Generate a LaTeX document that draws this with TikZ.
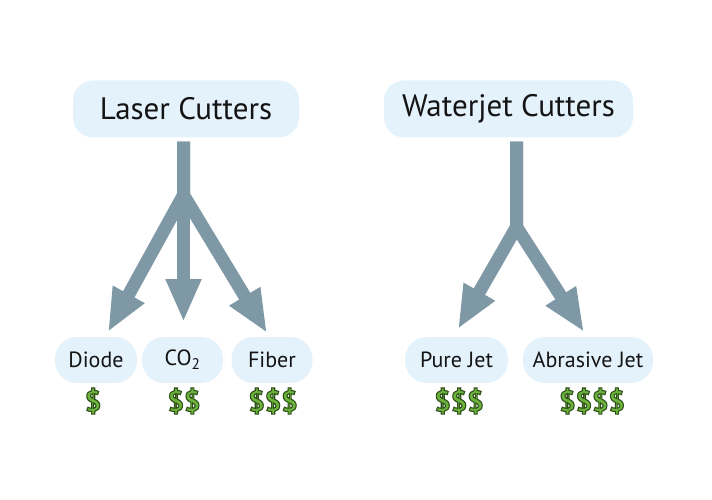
\documentclass[tikz,border=0pt]{standalone}
\usepackage{fontspec}
\setmainfont{PT Sans}
\usetikzlibrary{arrows.meta,calc}
\definecolor{boxfill}{RGB}{228,242,252}
\definecolor{arrowc}{RGB}{127,152,166}
\definecolor{dollarfill}{RGB}{108,180,60}
\definecolor{txt}{RGB}{20,20,20}
\newcommand{\outlined}[1]{\special{pdf:literal direct 2 Tr 1.1 w 0.18 0.31 0.1 RG}#1\special{pdf:literal direct 0 Tr}}
\begin{document}
\begin{tikzpicture}[x=1pt,y=-1pt,
  bigbox/.style={fill=boxfill, rounded corners=20pt, minimum width=#1, minimum height=57pt, inner sep=0pt, text=txt, font=\fontsize{31}{34}\selectfont},
  smallbox/.style={fill=boxfill, rounded corners=22pt, minimum width=#1, minimum height=46pt, inner sep=0pt, text=txt, font=\fontsize{22}{26}\selectfont},
  conn/.style={draw=arrowc, line width=13pt, line join=miter, -{Triangle[width=33pt,length=43pt]}},
  price/.style={font=\bfseries\fontsize{29}{32}\selectfont, inner sep=0pt, text=dollarfill}
]
\useasboundingbox (0,0) rectangle (712,500);
% main boxes
\node[bigbox=226pt] (laser) at (186,109) {Laser Cutters};
\node[bigbox=249pt] (water) at (508.5,109) {Waterjet Cutters};
% leaf boxes
\node[smallbox=82pt] (diode) at (96,360) {Diode};
\node[smallbox=81pt] (co2) at (182.5,360) {CO\textsubscript{2}};
\node[smallbox=81pt] (fiber) at (272,360) {Fiber};
\node[smallbox=103pt] (pure) at (456.5,360) {Pure Jet};
\node[smallbox=130pt] (abr) at (588,360) {Abrasive Jet};
% prices
\node[price] (p1) at (93,401) {\outlined{\$}};
\node[price] (p2) at (184,401) {\outlined{\$\$}};
\node[price] (p3) at (273,401) {\outlined{\$\$\$}};
\node[price] (p4) at (459,401) {\outlined{\$\$\$}};
\node[price] (p5) at (592,401) {\outlined{\$\$\$\$}};
% branch points and arrow tips
\coordinate (lb) at (183.5,195);
\coordinate (wb) at (516.5,227);
\coordinate (tD) at (108,332);
\coordinate (tC) at (183.5,322);
\coordinate (tF) at (267,333);
\coordinate (tP) at (458,329);
\coordinate (tA) at (584,332);
% connectors
\draw[conn] ([yshift=-4pt]lb |- laser.south) -- (lb) -- (tD);
\draw[conn] ([yshift=-4pt]lb |- laser.south) -- (tC);
\draw[conn] ([yshift=-4pt]lb |- laser.south) -- (lb) -- (tF);
\draw[conn] ([yshift=-4pt]wb |- water.south) -- (wb) -- (tP);
\draw[conn] ([yshift=-4pt]wb |- water.south) -- (wb) -- (tA);
\end{tikzpicture}
\end{document}
